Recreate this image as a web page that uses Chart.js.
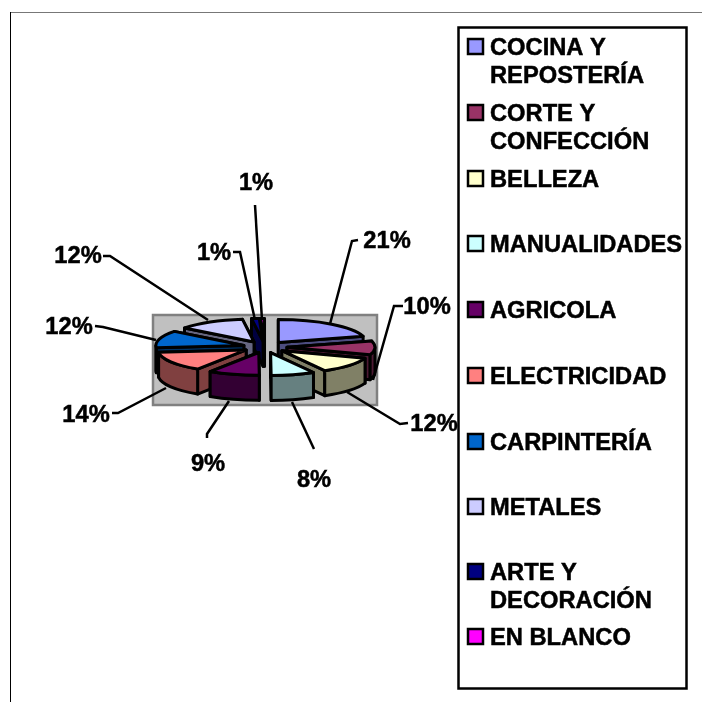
<!DOCTYPE html>
<html>
<head>
<meta charset="utf-8">
<style>
  html, body { margin: 0; padding: 0; background: #fff; }
  canvas { display: block; }
</style>
<script src="https://cdn.jsdelivr.net/npm/chart.js@4"></script>
</head>
<body>
<canvas id="myChart" width="702" height="702"></canvas>
<script>
const categories = [
    ["COCINA Y", "REPOSTERÍA"],
    ["CORTE Y", "CONFECCIÓN"],
    ["BELLEZA"],
    ["MANUALIDADES"],
    ["AGRICOLA"],
    ["ELECTRICIDAD"],
    ["CARPINTERÍA"],
    ["METALES"],
    ["ARTE Y", "DECORACIÓN"],
    ["EN BLANCO"],
];
const percents = [20.7, 9.6, 11.6, 8, 9.4, 14.1, 12.1, 12.4, 1.4, 0.7];
const colors = ["#9999FF", "#993366", "#FFFFCC", "#CCFFFF", "#660066", "#FF8080", "#0066CC", "#CCCCFF", "#000080", "#FF00FF"];

// label position (center x, baseline y) and leader line for each slice
const labelPos = [[387, 248], [427, 314], [434, 431], [314, 487], [208, 471], [86, 422], [69, 334], [78, 263], [214, 260], [256, 190]];
const leaders = [
    [[358, 240], [352, 241], [330, 324]],
    [[403, 306], [394, 306], [373, 380]],
    [[408, 423], [400, 424], [347, 392]],
    [[314, 449], [292, 402]],
    [[207, 438], [207, 434], [229, 401]],
    [[112, 413], [118, 413], [166, 388]],
    [[95, 326], [103, 327], [156, 340]],
    [[103, 256], [110, 256], [208, 320]],
    [[233, 252], [240, 252], [255, 320]],
    [[255, 205], [262, 320]],
];
// first baseline of each legend entry, second line sits 28px lower
const legendY = [55, 121, 187, 252, 318, 384, 450, 515, 580, 645];

const FONT = 'bold 23.7px "Liberation Sans", Arial, sans-serif';
const SQUASH = 0.26;
const DEPTH = 25;

function darken(hex) {
    const n = parseInt(hex.slice(1), 16);
    const c = [n >> 16, (n >> 8) & 255, n & 255].map((v) => Math.round(v / 2));
    return "rgb(" + c.join(",") + ")";
}

function paint(ctx, fill) {
    ctx.fillStyle = fill;
    ctx.fill();
    ctx.stroke();
}

function drawSlice(ctx, arc, fill) {
    const { x, y, startAngle, endAngle, outerRadius } = arc.getProps(["x", "y", "startAngle", "endAngle", "outerRadius"], true);
    const mid = (startAngle + endAngle) / 2;
    const off = arc.options.offset;
    const ax = x + Math.cos(mid) * off;
    const ay = y + Math.sin(mid) * off * SQUASH;
    const ry = outerRadius * SQUASH;
    const side = darken(fill);

    // cut faces, the one further back first
    [startAngle, endAngle]
        .sort((a, b) => Math.sin(a) - Math.sin(b))
        .forEach((ang) => {
            const px = ax + Math.cos(ang) * outerRadius;
            const py = ay + Math.sin(ang) * ry;
            ctx.beginPath();
            ctx.moveTo(ax, ay);
            ctx.lineTo(px, py);
            ctx.lineTo(px, py + DEPTH);
            ctx.lineTo(ax, ay + DEPTH);
            ctx.closePath();
            paint(ctx, side);
        });

    // outer rim, only the front half of the ellipse shows
    const a = Math.max(startAngle, 0);
    const b = Math.min(endAngle, Math.PI);
    if (a < b) {
        ctx.beginPath();
        ctx.ellipse(ax, ay, outerRadius, ry, 0, a, b);
        ctx.ellipse(ax, ay + DEPTH, outerRadius, ry, 0, b, a, true);
        ctx.closePath();
        paint(ctx, side);
    }

    // top
    ctx.beginPath();
    ctx.moveTo(ax, ay);
    ctx.ellipse(ax, ay, outerRadius, ry, 0, startAngle, endAngle);
    ctx.closePath();
    paint(ctx, fill);
}

const pie3d = {
    id: "pie3d",
    beforeDraw(chart) {
        const ctx = chart.ctx;
        ctx.save();
        ctx.fillStyle = "#fff";
        ctx.fillRect(0, 0, 702, 702);
        ctx.strokeStyle = "#777";
        ctx.lineWidth = 1;
        ctx.beginPath();
        ctx.moveTo(10, 12.5);
        ctx.lineTo(702, 12.5);
        ctx.stroke();
        ctx.strokeStyle = "#000";
        ctx.beginPath();
        ctx.moveTo(10.5, 12);
        ctx.lineTo(10.5, 702);
        ctx.stroke();
        // plot background
        ctx.fillStyle = "#C0C0C0";
        ctx.strokeStyle = "#808080";
        ctx.lineWidth = 2.5;
        ctx.fillRect(153, 315, 224, 90);
        ctx.strokeRect(153, 315, 224, 90);
        ctx.restore();
    },
    beforeDatasetDraw(chart, args) {
        const ctx = chart.ctx;
        const arcs = args.meta.data.map((arc, i) => ({ arc, i }));
        arcs.sort((p, q) => {
            const mp = (p.arc.startAngle + p.arc.endAngle) / 2;
            const mq = (q.arc.startAngle + q.arc.endAngle) / 2;
            return Math.sin(mp) - Math.sin(mq);
        });
        ctx.save();
        ctx.strokeStyle = "#000";
        ctx.lineWidth = 3;
        ctx.lineJoin = "round";
        arcs.forEach((p) => drawSlice(ctx, p.arc, colors[p.i]));
        ctx.restore();
        return false;
    },
    afterDraw(chart) {
        const ctx = chart.ctx;
        const total = percents.reduce((a, b) => a + b, 0);
        ctx.save();
        ctx.strokeStyle = "#000";
        ctx.fillStyle = "#000";
        ctx.lineWidth = 2.5;
        ctx.font = FONT;
        ctx.textAlign = "center";
        ctx.textBaseline = "alphabetic";
        leaders.forEach((pts) => {
            ctx.beginPath();
            pts.forEach((p, i) => (i ? ctx.lineTo(p[0], p[1]) : ctx.moveTo(p[0], p[1])));
            ctx.stroke();
        });
        ctx.lineWidth = 0.5;
        percents.forEach((v, i) => {
            const txt = Math.round((v / total) * 100) + "%";
            ctx.fillText(txt, labelPos[i][0], labelPos[i][1]);
            ctx.strokeText(txt, labelPos[i][0], labelPos[i][1]);
        });

        // legend
        ctx.textAlign = "left";
        ctx.lineWidth = 2.5;
        ctx.strokeRect(458.5, 27.5, 228, 661);
        chart.data.labels.forEach((lines, i) => {
            const y = legendY[i];
            ctx.lineWidth = 2.5;
            ctx.fillStyle = colors[i];
            ctx.fillRect(468, y - 16, 15, 15);
            ctx.strokeRect(468, y - 16, 15, 15);
            ctx.fillStyle = "#000";
            ctx.lineWidth = 0.5;
            lines.forEach((t, k) => {
                ctx.fillText(t, 490, y + k * 28);
                ctx.strokeText(t, 490, y + k * 28);
            });
        });
        ctx.restore();
    },
};

const Mychart = document.getElementById("myChart");

new Chart(Mychart, {
    type: "pie",
    data: {
        labels: categories,
        datasets: [
            {
                data: percents,
                backgroundColor: colors,
                offset: 22,
            },
        ],
    },
    options: {
        responsive: false,
        animation: false,
        radius: 88,
        layout: { padding: { right: 172, bottom: 8 } },
        plugins: {
            legend: { display: false },
            tooltip: { enabled: false },
        },
    },
    plugins: [pie3d],
});
</script>
</body>
</html>
